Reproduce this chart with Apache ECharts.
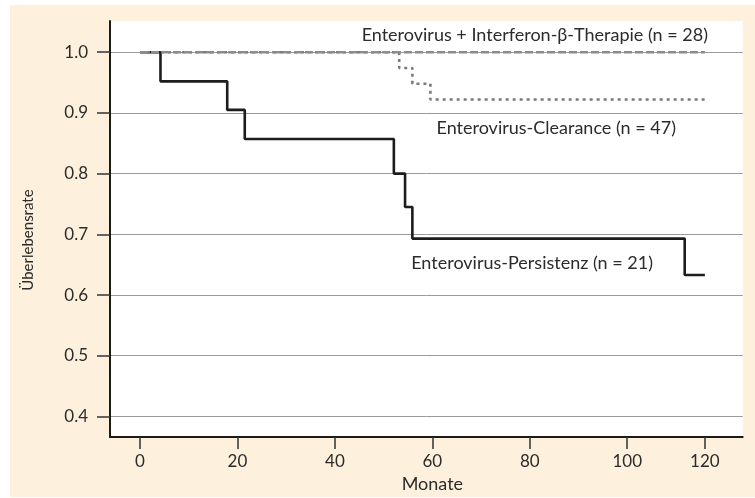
<!DOCTYPE html>
<html><head><meta charset="utf-8">
<script src="https://cdn.jsdelivr.net/npm/echarts@6/dist/echarts.min.js"></script>
<style>
html,body{margin:0;padding:0;background:#fff;}
#wrap{position:relative;width:755px;height:498px;}
#bg{position:absolute;left:10px;top:5px;width:745px;height:492px;background:#fdf0dc;}
#c{position:absolute;left:0;top:0;width:755px;height:498px;}
</style>
</head><body>
<div id="wrap"><div id="bg"></div><div id="c"></div></div>
<script>
// ---- data ----
const xTickMonths = [0, 20, 40, 60, 80, 100, 120];
const xTickLabels = ['0', '20', '40', '60', '80', '100', '120'];
const yTickValues = [0.4, 0.5, 0.6, 0.7, 0.8, 0.9, 1.0];
const yTickLabels = ['0.4', '0.5', '0.6', '0.7', '0.8', '0.9', '1.0'];

const seriesNames = [
  'Enterovirus + Interferon-β-Therapie (n = 28)',
  'Enterovirus-Clearance (n = 47)',
  'Enterovirus-Persistenz (n = 21)'
];
const interferonMonths = [0, 120];
const interferonSurv   = [1.0, 1.0];
const clearanceMonths  = [0, 53.2, 55.9, 59.6, 120];
const clearanceSurv    = [1.0, 0.974, 0.948, 0.922, 0.922];
const persistenzMonths = [0, 4.2, 17.9, 21.5, 52.1, 54.4, 55.9, 114.8, 120];
const persistenzSurv   = [1.0, 0.952, 0.905, 0.857, 0.800, 0.745, 0.693, 0.633, 0.633];

// The original figure draws the last tick interval (100-120) compressed.
const lastIntervalScale = 0.797;
function axisPos(m) { return m <= 100 ? m : 100 + (m - 100) * lastIntervalScale; }

function pairs(xs, ys) { return xs.map((x, i) => [axisPos(x), ys[i]]); }

const FONT = 'Lato';
const TXT = '#2b2b2b';

const chart = echarts.init(document.getElementById('c'), null, {renderer: 'canvas'});
const xTickPos = xTickMonths.map(axisPos);

chart.setOption({
  animation: false,
  backgroundColor: 'transparent',
  textStyle: {fontFamily: FONT},
  grid: {left: 110, right: 12.3, top: 21, bottom: 60.7, show: true, backgroundColor: '#ffffff', borderWidth: 0},
  xAxis: {
    type: 'value', min: -6.16, max: 123.7,
    name: 'Monate', nameLocation: 'middle', nameGap: 36,
    nameTextStyle: {fontFamily: FONT, fontSize: 18, color: TXT, padding: [0, 0, 0, 12]},
    axisLine: {show: true, onZero: false, lineStyle: {color: '#1a1a1a', width: 2}},
    axisTick: {show: true, inside: false, length: 12, customValues: xTickPos, lineStyle: {color: '#333', width: 1.5}},
    axisLabel: {show: true, margin: 16, fontSize: 17, color: TXT, fontFamily: FONT, customValues: xTickPos,
      formatter: v => { const i = xTickPos.findIndex(p => Math.abs(p - v) < 1e-6); return i >= 0 ? xTickLabels[i] : ''; }},
    splitLine: {show: false}
  },
  yAxis: {
    type: 'value', min: 0.366, max: 1.0514,
    name: 'Überlebensrate', nameLocation: 'middle', nameGap: 74,
    nameTextStyle: {fontFamily: FONT, fontSize: 15, color: TXT, padding: [0, 22, 0, 0]},
    axisLine: {show: true, onZero: false, lineStyle: {color: '#1a1a1a', width: 2}},
    axisTick: {show: true, inside: false, length: 13, customValues: yTickValues, lineStyle: {color: '#333', width: 1.5}},
    axisLabel: {show: true, margin: 22, fontSize: 17, color: TXT, fontFamily: FONT, customValues: yTickValues,
      formatter: v => { const i = yTickValues.findIndex(p => Math.abs(p - v) < 1e-6); return i >= 0 ? yTickLabels[i] : ''; }},
    splitLine: {show: true, lineStyle: {color: '#9a9a9a', width: 1}}
  },
  series: [
    {name: seriesNames[2], type: 'line', step: 'end', showSymbol: false, symbol: 'none', z: 3,
     data: pairs(persistenzMonths, persistenzSurv), lineStyle: {color: '#1c1c1c', width: 2.6}},
    {name: seriesNames[1], type: 'line', step: 'end', showSymbol: false, symbol: 'none', z: 4,
     data: pairs(clearanceMonths, clearanceSurv), lineStyle: {color: '#7a7a7a', width: 2.6, type: [3, 4]}},
    {name: seriesNames[0], type: 'line', step: 'end', showSymbol: false, symbol: 'none', z: 5,
     data: pairs(interferonMonths, interferonSurv), lineStyle: {color: '#8c8c8c', width: 2.6, type: [8, 3]}}
  ],
  graphic: [
    {type: 'text', z: 100, style: {text: seriesNames[0], x: 708, y: 35, textAlign: 'right', textVerticalAlign: 'middle', font: '18px ' + FONT, fill: TXT}},
    {type: 'text', z: 100, style: {text: seriesNames[1], x: 676, y: 128, textAlign: 'right', textVerticalAlign: 'middle', font: '18px ' + FONT, fill: TXT}},
    {type: 'text', z: 100, style: {text: seriesNames[2], x: 653, y: 263, textAlign: 'right', textVerticalAlign: 'middle', font: '18px ' + FONT, fill: TXT}}
  ]
});
</script>
</body></html>
